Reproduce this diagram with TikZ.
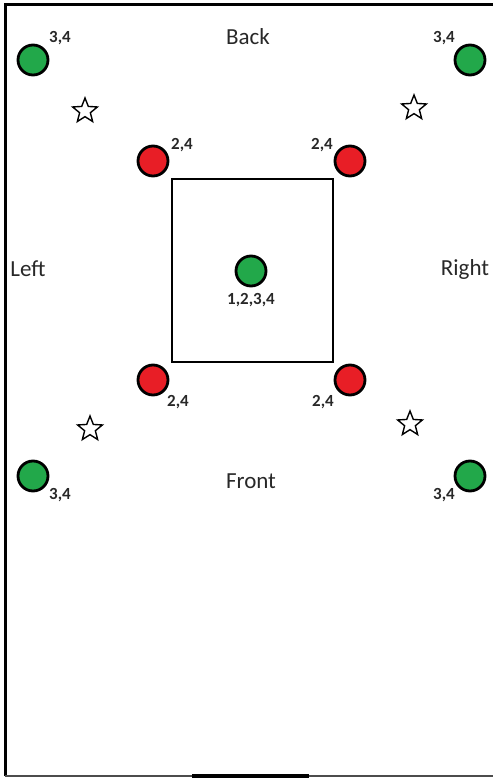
\documentclass[tikz,border=0pt]{standalone}
\usepackage{fontspec}
\setmainfont{Carlito}
\usetikzlibrary{shapes.geometric}
\definecolor{dotgreen}{RGB}{34,168,74}
\definecolor{dotred}{RGB}{232,30,38}
\definecolor{txt}{RGB}{40,40,40}
\tikzset{
  gdot/.style={circle,draw=black,line width=2.8pt,fill=dotgreen,minimum size=30pt,inner sep=0pt},
  rdot/.style={circle,draw=black,line width=2.8pt,fill=dotred,minimum size=30pt,inner sep=0pt},
  lbl/.style={font=\fontsize{17}{17}\selectfont\bfseries,text=txt,inner sep=0pt},
  side/.style={font=\fontsize{23}{23}\selectfont,text=txt,inner sep=0pt},
  starmark/.style={star,star points=5,star point ratio=2.3,draw=black,line width=1.4pt,minimum size=26pt,inner sep=0pt}
}
\begin{document}
\begin{tikzpicture}[x=1pt,y=-1pt]
\useasboundingbox (0,0) rectangle (493,778);
% frame
\draw[line width=3pt] (5,776) -- (5,5) -- (493,5);
\draw[line width=1.5pt,black!70] (5,776) -- (493,776);
\draw[line width=4pt] (192,776) -- (309,776);
% square
\draw[line width=2.8pt] (172,179) rectangle (333,362);
% dots
\node[gdot] (gtl) at (33,60) {};
\node[gdot] (gtr) at (470,60) {};
\node[gdot] (gbl) at (33,476) {};
\node[gdot] (gbr) at (470,476) {};
\node[gdot] (gc) at (251,271) {};
\node[rdot] (rtl) at (153,161) {};
\node[rdot] (rtr) at (350,161) {};
\node[rdot] (rbl) at (153,380) {};
\node[rdot] (rbr) at (350,380) {};
% stars
\node[starmark] (stl) at (85,111) {};
\node[starmark] (str) at (414,108) {};
\node[starmark] (sbl) at (90,429) {};
\node[starmark] (sbr) at (410,424) {};
% labels
\node[lbl] (ltl) at (60,38) {3,4};
\node[lbl] (ltr) at (444,38) {3,4};
\node[lbl] (lbl1) at (60,495) {3,4};
\node[lbl] (lbr) at (444,495) {3,4};
\node[lbl] (lc) at (251,300) {1,2,3,4};
\node[lbl] (lrtl) at (182,145) {2,4};
\node[lbl] (lrtr) at (322,145) {2,4};
\node[lbl] (lrbl) at (178,402) {2,4};
\node[lbl] (lrbr) at (323,402) {2,4};
% sides
\node[side] (back) at (248,37) {Back};
\node[side] (left) at (28,269) {Left};
\node[side] (right) at (465,269) {Right};
\node[side] (front) at (251,481) {Front};
\end{tikzpicture}
\end{document}
